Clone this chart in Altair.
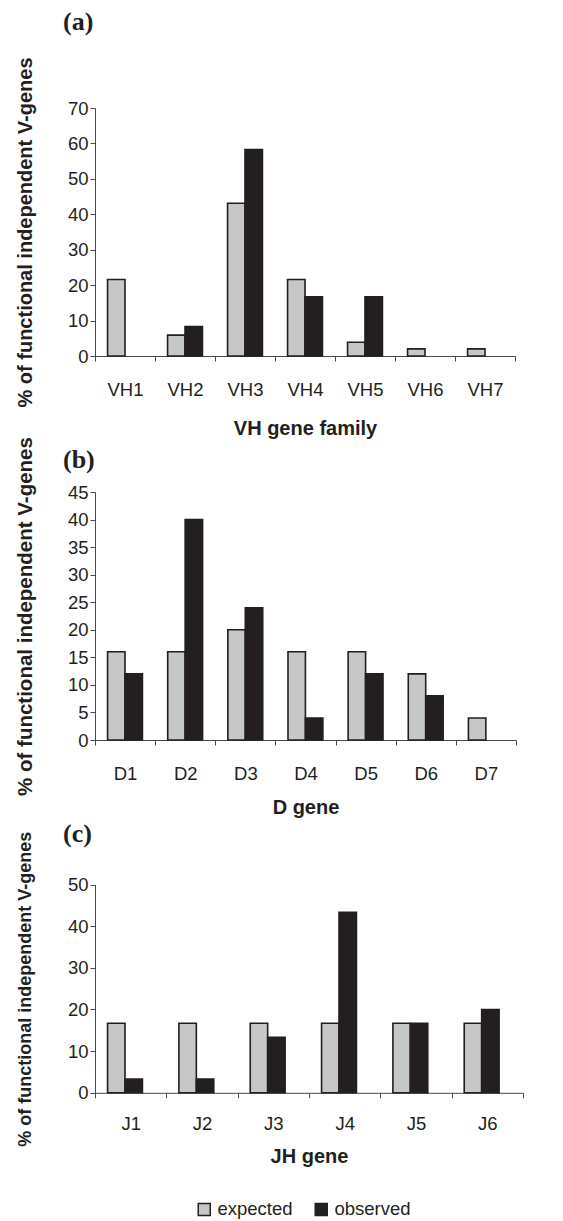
import altair as alt
import pandas as pd

INK = "#231f20"
AXIS = "#4a4a4a"

series = ["expected", "observed"]
series_fill = ["#c6c7c9", "#231f20"]

vh_genes = ["VH1", "VH2", "VH3", "VH4", "VH5", "VH6", "VH7"]
vh_expected = [21.6, 5.9, 43.1, 21.6, 3.9, 2.0, 2.0]
vh_observed = [0.0, 8.3, 58.3, 16.7, 16.7, 0.0, 0.0]

d_genes = ["D1", "D2", "D3", "D4", "D5", "D6", "D7"]
d_expected = [16, 16, 20, 16, 16, 12, 4]
d_observed = [12, 40, 24, 4, 12, 8, 0]

jh_genes = ["J1", "J2", "J3", "J4", "J5", "J6"]
jh_expected = [16.7, 16.7, 16.7, 16.7, 16.7, 16.7]
jh_observed = [3.3, 3.3, 13.3, 43.3, 16.7, 20.0]


def long_table(genes, expected, observed):
    return pd.DataFrame({
        "gene": list(genes) + list(genes),
        "series": ["expected"] * len(genes) + ["observed"] * len(genes),
        "value": list(expected) + list(observed),
    })


def panel(genes, expected, observed, tag, tag_offset, xtitle, ytitle, ytitle_size,
          ymax, ystep, width, height, top_gap, label_pad, title_pad, legend=None):
    df = long_table(genes, expected, observed)
    full_h = height + top_gap
    return alt.Chart(df).transform_filter("datum.value > 0").mark_bar(
        stroke=INK, strokeWidth=1.6
    ).encode(
        x=alt.X("gene:N",
                scale=alt.Scale(domain=genes, paddingInner=0, paddingOuter=0),
                axis=alt.Axis(title=xtitle, labelAngle=0, tickBand="extent",
                              labelPadding=label_pad, titlePadding=title_pad)),
        xOffset=alt.XOffset("series:N",
                            scale=alt.Scale(domain=series, paddingInner=0, paddingOuter=0.72)),
        y=alt.Y("value:Q",
                scale=alt.Scale(domain=[0, ymax], range=[full_h, top_gap], nice=False),
                axis=alt.Axis(title=ytitle, values=list(range(0, ymax + 1, ystep)),
                              titleX=-70, titleBaseline="middle", titleFontSize=ytitle_size)),
        color=alt.Color("series:N", scale=alt.Scale(domain=series, range=series_fill),
                        legend=legend),
    ).properties(
        width=width, height=full_h,
        title=alt.TitleParams(text=tag, anchor="start", frame="group", dx=-32,
                              offset=tag_offset, baseline="alphabetic",
                              font="Liberation Serif", fontSize=26, fontWeight="bold",
                              color=INK),
    )


pa = panel(vh_genes, vh_expected, vh_observed, "(a)", 1, "VH gene family",
           "% of functional independent V-genes", 20, 70, 10, 420, 248, 0, 19.5, 19)
pb = panel(d_genes, d_expected, d_observed, "(b)", -57.5, "D gene",
           "% of functional independent V-genes", 20.5, 45, 5, 421, 248, 0, 19.3, 14.6)
legend_c = alt.Legend(title=None, orient="none", legendX=100, legendY=324,
                      direction="horizontal", symbolType="square", symbolSize=144,
                      symbolStrokeColor=INK, symbolStrokeWidth=1.5,
                      labelFont="Liberation Sans", labelFontSize=18.5, labelColor=INK,
                      labelOffset=4, columnPadding=19, padding=0)
pc = panel(jh_genes, jh_expected, jh_observed, "(c)", -39, "JH gene",
           "% of functional independent  V-genes", 18, 50, 10, 428, 208.3, 8.5,
           16.7, 13.9, legend=legend_c)

chart = alt.vconcat(pa, pb, pc, spacing=136, bounds="flush").resolve_scale(
    color="independent"
).properties(
    padding={"left": 6, "top": 0, "right": 0, "bottom": 0}
).configure_view(stroke=None).configure_axis(
    labelFont="Liberation Sans", labelFontSize=18.5, labelColor=INK,
    titleFont="Liberation Sans", titleFontSize=20, titleFontWeight="bold", titleColor=INK,
    domainColor=AXIS, tickColor=AXIS, tickSize=5, grid=False, domainWidth=1, tickWidth=1,
).configure_axisY(labelPadding=2)

chart.save("out.html", embed_options={"renderer": "svg", "actions": False})
